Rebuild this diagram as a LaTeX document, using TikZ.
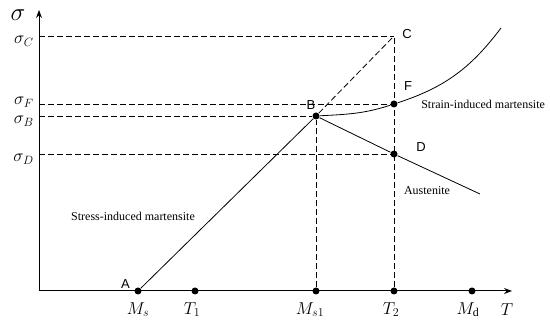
\documentclass[tikz,border=0pt]{standalone}
\usepackage{fontspec}
\setmainfont{Liberation Serif}
\newfontfamily\arialfont{Liberation Sans}
\usetikzlibrary{positioning, arrows.meta}
\tikzstyle{skreis} = [circle, fill=black, inner sep=0pt, minimum size=7pt]
\tikzstyle{arrow} = [-{Stealth[length=8pt, width=6pt]}]
\tikzstyle{strich} = [dash pattern=on 6pt off 3pt]
\tikzstyle{buchstabe} = [font=\arialfont\fontsize{13}{15}\selectfont, inner sep=1pt]
\tikzstyle{achse} = [font=\fontsize{17}{20}\selectfont, inner sep=1pt]
\tikzstyle{beschr} = [font=\fontsize{12}{14}\selectfont, inner sep=1pt]

\begin{document}
\begin{tikzpicture}[x=1pt, y=1pt, line width=0.8pt, node distance=2pt]
    	\useasboundingbox (0,0) rectangle (550,328);
    	
    	% Achsen
    	\coordinate (O) at (39,37);
    	\coordinate (ytop) at (39,318);
    	\coordinate (xend) at (512,37);
    	\draw[arrow, line width=1pt] (O) -- (ytop);
    	\draw[arrow, line width=1pt] (O) -- (xend);
    	\node[font=\fontsize{24}{28}\selectfont] (sigma) at (18,313) {$\sigma$};
    	\node[achse] (T) at (507,18) {$T$};
    	
    	% Punkte auf der T-Achse
    	\node [skreis] (A) at (138,37) {};
    	\node [skreis] (T1) at (195,37) {};
    	\node [skreis] (Ms1) at (316,37) {};
    	\node [skreis] (T2) at (394,37) {};
    	\node [skreis] (Md) at (472,37) {};
    	\node[achse, below=6pt of A] (lA) {$M_s$};
    	\node[achse, below=6pt of T1, xshift=-3pt] (lT1) {$T_1$};
    	\node[achse, below=6pt of Ms1, xshift=-6pt] (lMs1) {$M_{s1}$};
    	\node[achse, below=6pt of T2, xshift=-3pt] (lT2) {$T_2$};
    	\node[achse, below=6pt of Md, xshift=-4pt] (lMd) {$M_{\mathrm{d}}$};
    	
    	% Punkte im Diagramm
    	\node [skreis] (B) at (316,212) {};
    	\node [skreis] (F) at (394,224) {};
    	\node [skreis] (D) at (394,174) {};
    	\coordinate (C) at (394,292);
    	\coordinate (E) at (480,134);
    	\coordinate (G) at (501,300);
    	
    	\node[buchstabe, above left=0pt and 4pt of A, yshift=-2pt] (nA) {A};
    	\node[buchstabe, above=1pt of B, xshift=-5pt] (nB) {B};
    	\node[buchstabe, right=7pt of C, yshift=2pt] (nC) {C};
    	\node[buchstabe, above right=9pt and 6pt of F] (nF) {F};
    	\node[buchstabe, right=17pt of D, yshift=7pt] (nD) {D};
    	
    	% Hilfslinien
    	\coordinate (yC) at (O |- C);
    	\coordinate (yF) at (O |- F);
    	\coordinate (yB) at (O |- B);
    	\coordinate (yD) at (O |- D);
    	\node[achse, left=4pt of yC, yshift=-5pt] (sC) {$\sigma_C$};
    	\node[achse, left=4pt of yF, yshift=2pt] (sF) {$\sigma_F$};
    	\node[achse, left=4pt of yB, yshift=-5pt] (sB) {$\sigma_B$};
    	\node[achse, left=4pt of yD, yshift=-5pt] (sD) {$\sigma_D$};
    	
    	\draw[strich] (yC) -- (C);
    	\draw[strich] (yF) -- (F);
    	\draw[strich] (yB) -- (B);
    	\draw[strich] (yD) -- (D);
    	\draw[strich] (Ms1) -- (B);
    	\draw[strich] (T2) -- (C);
    	\draw[strich] (B) -- (C);
    	
    	% Kurven
    	\draw (A) -- (B);
    	\draw (B) -- (D) -- (E);
    	\draw (B) to[out=3, in=-162] (F) to[out=18, in=-127] (G);
    	
    	\node[beschr] (stress) at (133,112) {Stress-induced martensite};
    	\node[beschr, right=22pt of F] (strain) {Strain-induced martensite};
    	\node[beschr] (aust) at (427,137) {Austenite};
    	
    \end{tikzpicture}
\end{document}
